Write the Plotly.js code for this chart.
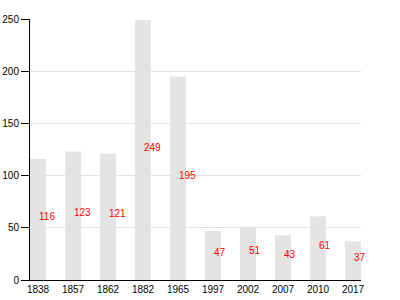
<!DOCTYPE html>
<html>
<head>
<meta charset="utf-8">
<script src="https://cdn.plot.ly/plotly-3.0.1.min.js"></script>
<style>html,body{margin:0;padding:0;background:#fff;}#chart{width:400px;height:300px;}</style>
</head>
<body>
<div id="chart"></div>
<script>
const categories = ["1838", "1857", "1862", "1882", "1965", "1997", "2002", "2007", "2010", "2017"];
const values = [116, 123, 121, 249, 195, 47, 51, 43, 61, 37];
const yTicks = [0, 50, 100, 150, 200, 250];

const barWidth = 0.457;
const fontFam = "Liberation Sans, Arial, sans-serif";

const annotations = values.map((v, i) => ({
  x: i, y: v / 2, xref: 'x', yref: 'y',
  text: String(v), showarrow: false,
  xanchor: 'left', yanchor: 'middle', xshift: -1, yshift: 3,
  font: {family: fontFam, size: 10, color: '#ff0000'}
}));

Plotly.newPlot('chart', [{
  type: 'bar', x: categories, y: values, width: barWidth,
  marker: {color: '#e4e4e4', line: {width: 0}},
  hoverinfo: 'none'
}], {
  width: 400, height: 300,
  margin: {l: 30, r: 39, t: 19, b: 20, pad: 0},
  paper_bgcolor: '#fff', plot_bgcolor: '#fff',
  showlegend: false,
  font: {family: fontFam, size: 10, color: '#000'},
  xaxis: {
    type: 'category', range: [-barWidth / 2, categories.length - 1 + barWidth / 2],
    showgrid: false, showline: true, linecolor: '#000', linewidth: 1,
    ticks: '', tickfont: {family: fontFam, size: 10, color: '#000'}, fixedrange: true
  },
  yaxis: {
    range: [0, 250], tickvals: yTicks, ticktext: yTicks.map(String),
    showgrid: true, gridcolor: '#e2e2e2', gridwidth: 1,
    showline: true, linecolor: '#000', linewidth: 1,
    ticks: 'outside', ticklen: 8, tickcolor: '#000', tickwidth: 1,
    zeroline: false, tickfont: {family: fontFam, size: 10, color: '#000'}, fixedrange: true
  },
  annotations: annotations
}, {displayModeBar: false});
</script>
</body>
</html>
